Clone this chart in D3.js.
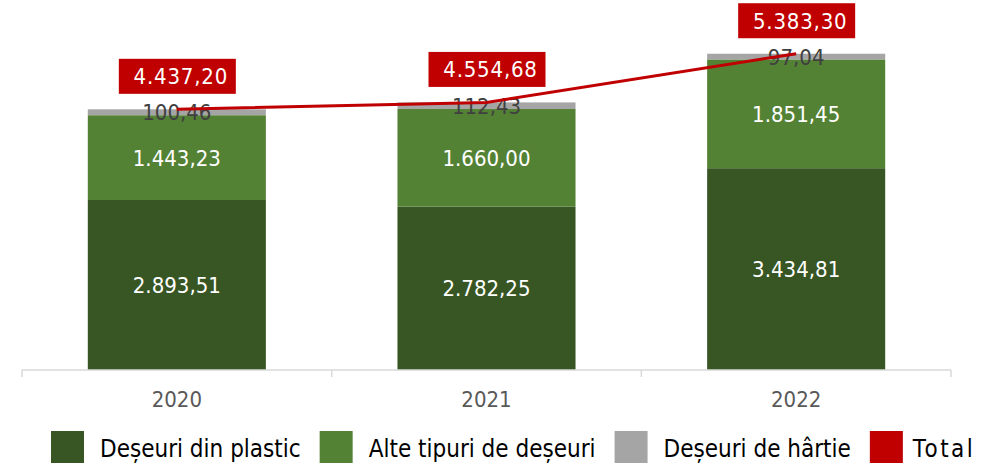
<!DOCTYPE html>
<html>
<head>
<meta charset="utf-8">
<script src="https://cdn.jsdelivr.net/npm/d3@7"></script>
<style>
  body { margin: 0; background: #fff; }
  svg { display: block; }
</style>
</head>
<body>
<svg id="chart"></svg>
<script>
const years = ['2020', '2021', '2022'];
const plastic = [2893.51, 2782.25, 3434.81];
const other = [1443.23, 1660.00, 1851.45];
const paper = [100.46, 112.43, 97.04];
const total = [4437.20, 4554.68, 5383.30];

const seriesNames = ['Deșeuri din plastic', 'Alte tipuri de deșeuri', 'Deșeuri de hârtie'];
const seriesColors = ['#375623', '#548235', '#a5a5a5'];
const labelColors = ['#ffffff', '#ffffff', '#404040'];
const totalName = 'Total';
const totalColor = '#c00000';

const width = 1007, height = 466;
const svg = d3.select('#chart').attr('width', width).attr('height', height);

const fmt = v => {
  const s = v.toFixed(2).split('.');
  return s[0].replace(/\B(?=(\d{3})+(?!\d))/g, '.') + ',' + s[1];
};

const table = years.map((y, i) => ({ year: y, s0: plastic[i], s1: other[i], s2: paper[i], total: total[i] }));

const x = d3.scaleBand().domain(years).range([22, 951]).padding(0);
const y = d3.scaleLinear().domain([0, 6000]).range([370, 17.5]);
const barW = x.bandwidth() * 0.575;
const cx = d => x(d) + x.bandwidth() / 2;

const stack = d3.stack().keys(['s0', 's1', 's2'])(table);

// bars
const layers = svg.append('g').selectAll('g')
  .data(stack)
  .enter().append('g')
  .attr('fill', (d, i) => seriesColors[i]);

layers.selectAll('rect')
  .data(d => d)
  .enter().append('rect')
  .attr('x', d => cx(d.data.year) - barW / 2)
  .attr('width', barW)
  .attr('y', d => y(d[1]))
  .attr('height', d => y(d[0]) - y(d[1]));

// x axis
const axis = svg.append('g');
axis.append('line')
  .attr('x1', x.range()[0]).attr('x2', x.range()[1])
  .attr('y1', y(0)).attr('y2', y(0))
  .attr('stroke', '#d9d9d9').attr('stroke-width', 1.5);
axis.selectAll('.tick')
  .data(years.concat(['end']))
  .enter().append('line')
  .attr('x1', (d, i) => x.range()[0] + i * x.bandwidth())
  .attr('x2', (d, i) => x.range()[0] + i * x.bandwidth())
  .attr('y1', y(0)).attr('y2', y(0) + 7)
  .attr('stroke', '#d9d9d9').attr('stroke-width', 1.5);
axis.selectAll('text')
  .data(years)
  .enter().append('text')
  .attr('x', d => cx(d))
  .attr('y', 407)
  .attr('text-anchor', 'middle')
  .attr('font-family', 'DejaVu Sans Condensed')
  .attr('font-size', 22)
  .attr('fill', '#595959')
  .text(d => d);

// segment labels
stack.forEach((layer, i) => {
  svg.append('g').selectAll('text')
    .data(layer)
    .enter().append('text')
    .attr('x', d => cx(d.data.year))
    .attr('y', d => (y(d[0]) + y(d[1])) / 2)
    .attr('dy', '0.36em')
    .attr('text-anchor', 'middle')
    .attr('font-family', 'DejaVu Sans Condensed')
    .attr('font-size', 22)
    .attr('fill', labelColors[i])
    .text(d => fmt(d[1] - d[0]));
});

// total line
const line = d3.line().x(d => cx(d.year)).y(d => y(d.total));
svg.append('path')
  .datum(table)
  .attr('d', line)
  .attr('fill', 'none')
  .attr('stroke', totalColor)
  .attr('stroke-width', 3);

// total labels
const tl = svg.append('g').selectAll('g')
  .data(table)
  .enter().append('g')
  .attr('transform', d => `translate(${cx(d.year)},${y(d.total) - 33})`);
tl.append('rect')
  .attr('x', -58).attr('y', -17.5)
  .attr('width', 117).attr('height', 35)
  .attr('fill', totalColor);
tl.append('text')
  .attr('x', 4)
  .attr('dy', '0.36em')
  .attr('text-anchor', 'middle')
  .attr('font-family', 'DejaVu Sans Condensed')
  .attr('font-size', 22)
  .attr('letter-spacing', 0.8)
  .attr('fill', '#fff')
  .text(d => fmt(d.total));

// legend
const legendItems = seriesNames.map((n, i) => ({ name: n, color: seriesColors[i] }))
  .concat([{ name: totalName, color: totalColor }]);
const legend = svg.append('g');
let lx = 51;
legendItems.forEach((it, i) => {
  const g = legend.append('g');
  g.append('rect')
    .attr('x', lx).attr('y', 431)
    .attr('width', 33).attr('height', 32)
    .attr('fill', it.color);
  const tx = it.name === totalName ? 43 : 49;
  const t = g.append('text')
    .attr('x', lx + tx).attr('y', 457)
    .attr('font-family', 'DejaVu Sans Condensed')
    .attr('font-size', 24)
    .attr('fill', '#000')
    .attr('letter-spacing', it.name === totalName ? 2.5 : 0)
    .text(it.name);
  lx += tx + t.node().getComputedTextLength() + 19;
});
</script>
</body>
</html>
